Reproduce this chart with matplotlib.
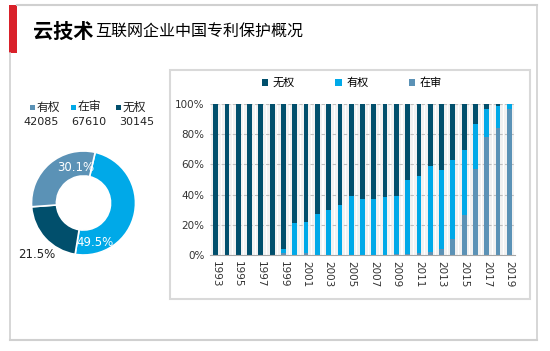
import matplotlib.pyplot as plt
from matplotlib.patches import Rectangle
from matplotlib.lines import Line2D

plt.rcParams['font.family'] = ['DejaVu Sans', 'Noto Sans CJK SC']

# 各年度专利法律状态占比（%）
years = list(range(1993, 2020))
pending = [0, 0, 0, 0, 0, 0, 1.5, 0, 1, 0, 0, 0, 0, 0, 0, 0, 0.5,
           0.7, 1, 2, 4, 10.7, 26.8, 57.2, 78.3, 84.4, 96.5]
valid_cum = [0, 0, 0, 0, 0, 0, 4, 21.5, 22, 27, 29.5, 33, 39.4, 37.4, 36.8, 38.7, 39.4,
             49.5, 52, 59.2, 56.6, 63.2, 69.3, 86.6, 96.5, 98.7, 100]
valid = [c - p for c, p in zip(valid_cum, pending)]
invalid = [100 - c for c in valid_cum]

# 饼图数据
pie_names = ['有权', '在审', '无权']
pie_counts = ['42085', '67610', '30145']
pie_pct = [30.1, 49.5, 21.5]

c_dark = '#014f6c'
c_bright = '#00a9e8'
c_steel = '#5b92b6'

W, H = 550, 351
fig = plt.figure(figsize=(W / 100, H / 100), dpi=100)


def fx(x):
    return x / W


def fy(y):
    return 1 - y / H


# 外框与标题
border = '#d0d0d0'
fig.add_artist(Line2D([fx(17), fx(537)], [fy(5), fy(5)], color=border, lw=1.5))
fig.add_artist(Line2D([fx(9.5), fx(9.5)], [fy(53), fy(340)], color=border, lw=1.2))
fig.add_artist(Line2D([fx(9.5), fx(537)], [fy(340), fy(340)], color=border, lw=1.5))
fig.add_artist(Line2D([fx(537), fx(537)], [fy(5), fy(340)], color=border, lw=1.2))
fig.add_artist(Rectangle((fx(9), fy(53)), fx(8), 48 / H, color='#d9212a', lw=0))
fig.add_artist(Rectangle((fx(170), fy(299)), fx(360), 229 / H, fill=False,
                         edgecolor='#d9d9d9', lw=1.5))

fig.text(fx(33), fy(31), '云技术', fontsize=14.5, fontweight='bold',
         family='Noto Sans CJK SC', va='center', ha='left')
fig.text(fx(95), fy(32), '互联网企业中国专利保护概况', fontsize=11.5,
         family='Noto Sans CJK SC', va='center', ha='left')

# 堆积柱状图
ax = fig.add_axes([fx(210), fy(255), fx(305), 151 / H])
x = list(range(len(years)))
ax.bar(x, [100] * len(x), width=0.9, color='#f2f2f2', zorder=1)
for v in [20, 40, 60, 80, 100]:
    ax.axhline(v, color='#bfbfbf', lw=0.8, ls=(0, (3, 2)), zorder=1.5)
ax.bar(x, pending, width=0.42, color=c_steel, label='在审', zorder=2)
ax.bar(x, valid, width=0.42, bottom=pending, color=c_bright, label='有权', zorder=2)
ax.bar(x, invalid, width=0.42, bottom=valid_cum, color=c_dark, label='无权', zorder=2)
ax.set_xlim(-0.5, len(x) - 0.5)
ax.set_ylim(0, 100)
ax.set_yticks([0, 20, 40, 60, 80, 100])
ax.set_yticklabels([f'{v}%' for v in [0, 20, 40, 60, 80, 100]], fontsize=7.5, color='#333333')
ax.set_xticks(x[::2])
ax.set_xticklabels([str(y) for y in years[::2]], rotation=-90, fontsize=7.5, color='#333333')
ax.tick_params(length=0, pad=4)
for s in ['top', 'right', 'left']:
    ax.spines[s].set_visible(False)
ax.spines['bottom'].set_color('#a6a6a6')
handles, labels = ax.get_legend_handles_labels()
ax.legend(handles[::-1], labels[::-1], loc='lower center', bbox_to_anchor=(0.465, 1.04),
          ncol=3, frameon=False, fontsize=8, handlelength=0.6, handleheight=0.6,
          columnspacing=3.6, handletextpad=0.4)

# 环形图
R = 52
pax = fig.add_axes([fx(83.5 - R), fy(203 + R), fx(2 * R), 2 * R / H])
order = [1, 2, 0]
cols = {0: c_steel, 1: c_bright, 2: c_dark}
wedges, _ = pax.pie([pie_pct[i] for i in order], colors=[cols[i] for i in order],
                    startangle=77, counterclock=False, radius=1,
                    wedgeprops=dict(width=0.48, edgecolor='white', linewidth=1.2))
pax.set_xlim(-1, 1)
pax.set_ylim(-1, 1)
pax.axis('off')
pax.text(-0.14, 0.68, f'{pie_pct[0]}%', color='white', fontsize=8.5, ha='center', va='center')
pax.text(0.22, -0.75, f'{pie_pct[1]}%', color='white', fontsize=8.5, ha='center', va='center')
fig.text(fx(37), fy(255), f'{pie_pct[2]}%', color='#222222', fontsize=8.5, ha='center', va='center')

# 饼图图例
sq_x = [32, 73, 118]
num_x = [41, 89, 137]
for i in range(3):
    fig.add_artist(Rectangle((fx(sq_x[i] - 2.5), fy(109.5)), fx(5), 5 / H,
                             color=cols[i], lw=0))
    fig.text(fx(sq_x[i] + 5), fy(107), pie_names[i], fontsize=8.5, color='#222222',
             family='Noto Sans CJK SC', ha='left', va='center')
    fig.text(fx(num_x[i]), fy(122.5), pie_counts[i], fontsize=8, color='#222222',
             ha='center', va='center')

fig.savefig('out.png', dpi=100)
